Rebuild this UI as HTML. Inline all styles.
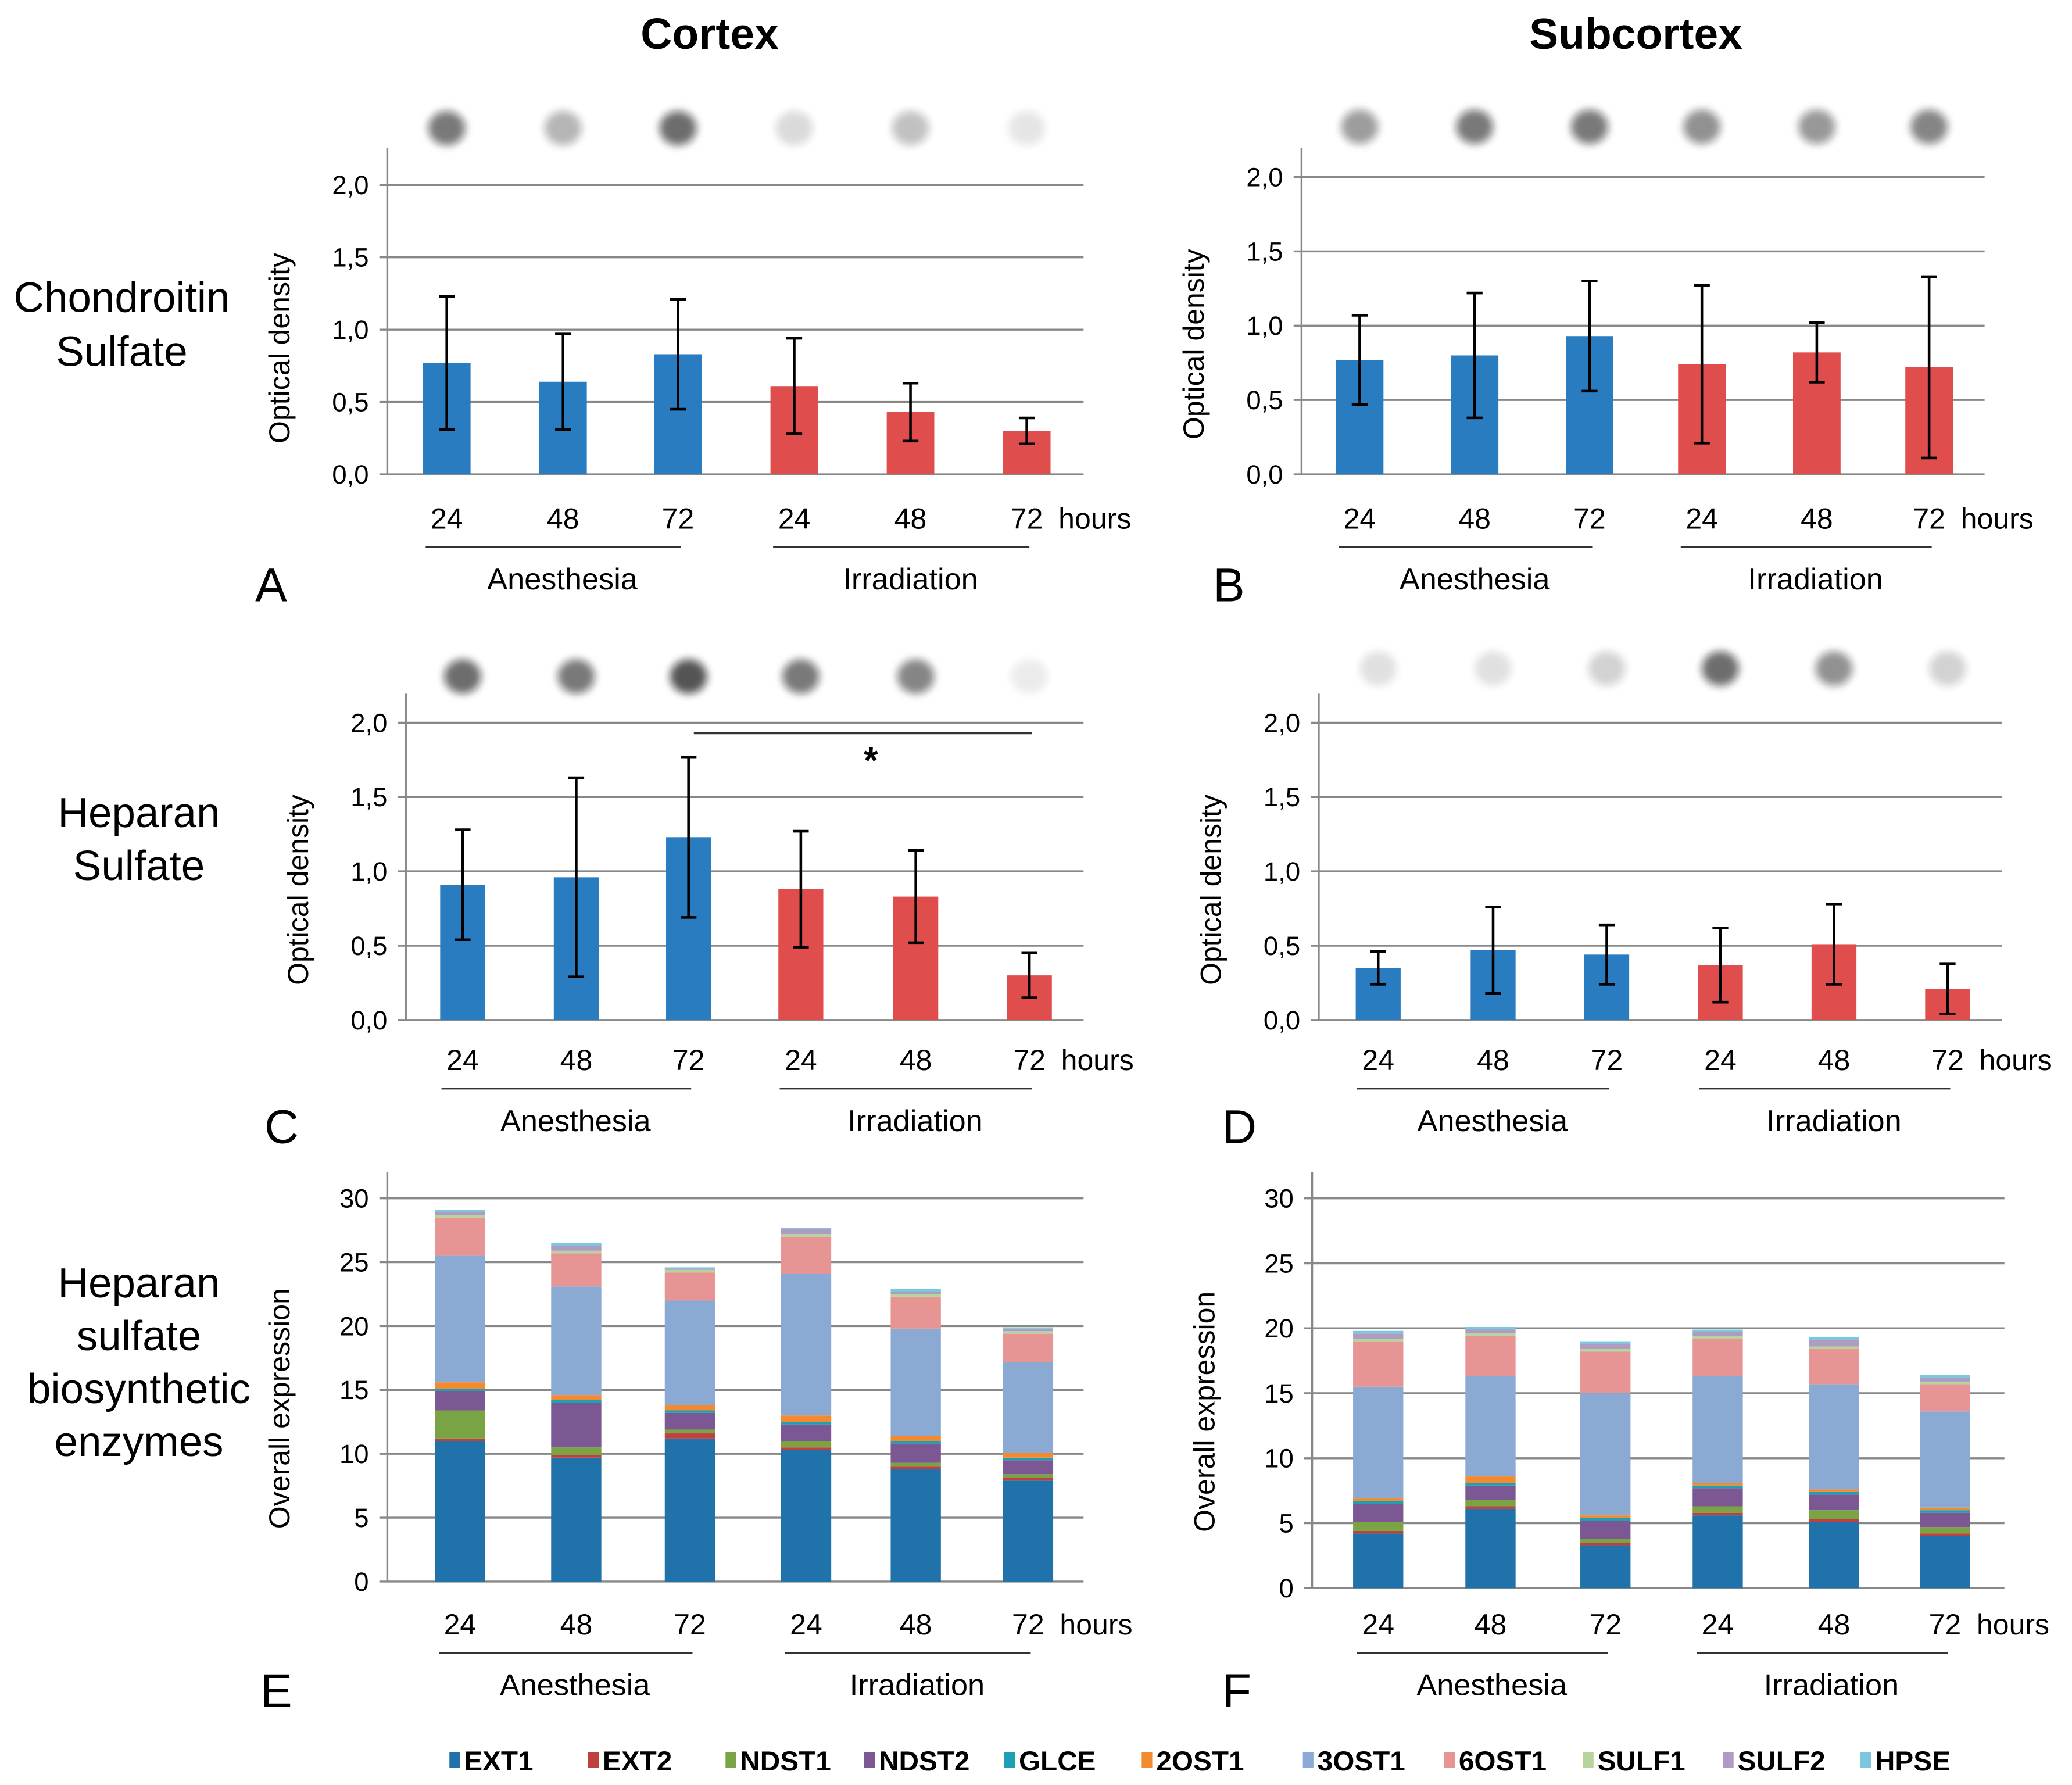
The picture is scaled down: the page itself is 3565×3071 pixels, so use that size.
<!DOCTYPE html>
<html><head><meta charset="utf-8"><style>
html,body{margin:0;padding:0;background:#fff}
svg{display:block}
text{font-family:"Liberation Sans",Arial,sans-serif;fill:#000}
.n{font-family:"Liberation Sans Narrow","Liberation Sans",sans-serif}
</style></head><body>
<svg id="fig" xmlns="http://www.w3.org/2000/svg" width="3565" height="3071" viewBox="0 0 1568 1351">
<defs>
<filter id="blur" x="-50%" y="-50%" width="200%" height="200%"><feGaussianBlur stdDeviation="3"/></filter>
</defs>
<text x="537" y="37" font-size="33" font-weight="bold" text-anchor="middle">Cortex</text>
<text x="1238" y="37" font-size="33" font-weight="bold" text-anchor="middle">Subcortex</text>
<g font-size="32" text-anchor="middle">
<text x="92" y="236"><tspan x="92">Chondroitin</tspan><tspan x="92" dy="41">Sulfate</tspan></text>
<text x="105" y="626"><tspan x="105">Heparan</tspan><tspan x="105" dy="40">Sulfate</tspan></text>
<text x="105" y="982"><tspan x="105">Heparan</tspan><tspan x="105" dy="40">sulfate</tspan><tspan x="105" dy="40">biosynthetic</tspan><tspan x="105" dy="40">enzymes</tspan></text>
</g>
<g id="panels"></g>
<g id="legend"></g>
</svg>
<script>
const NS="http://www.w3.org/2000/svg";
const hours=["24","48","72","24","48","72"];
const groups=["Anesthesia","Irradiation"];
const csCortexMean=[0.77,0.64,0.83,0.61,0.43,0.30];
const csCortexErr=[0.46,0.33,0.38,0.33,0.20,0.09];
const csSubMean=[0.77,0.80,0.93,0.74,0.82,0.72];
const csSubErr=[0.30,0.42,0.37,0.53,0.20,0.61];
const hsCortexMean=[0.91,0.96,1.23,0.88,0.83,0.30];
const hsCortexErr=[0.37,0.67,0.54,0.39,0.31,0.15];
const hsSubMean=[0.35,0.47,0.44,0.37,0.51,0.21];
const hsSubErr=[0.11,0.29,0.20,0.25,0.27,0.17];
const odTicks=["0,0","0,5","1,0","1,5","2,0"];
const odTickVals=[0,0.5,1,1.5,2];
const exTickVals=[0,5,10,15,20,25,30];
const enzymes=["EXT1","EXT2","NDST1","NDST2","GLCE","2OST1","3OST1","6OST1","SULF1","SULF2","HPSE"];
const enzColors=["#1f73aa","#c0403f","#7aa444","#7b5893","#1d9fb5","#f48a30","#8aaad4","#e69594","#b5d59a","#ae9cc3","#7dc6dc"];
const cortexExpr=[
[11.0,0.2,2.2,1.5,0.2,0.5,9.9,3.0,0.2,0.2,0.2],
[9.7,0.2,0.6,3.5,0.2,0.4,8.5,2.6,0.2,0.4,0.2],
[11.2,0.4,0.3,1.3,0.2,0.4,8.2,2.2,0.2,0.1,0.1],
[10.3,0.2,0.5,1.3,0.2,0.5,11.1,2.9,0.2,0.4,0.1],
[8.8,0.2,0.3,1.5,0.2,0.4,8.4,2.5,0.2,0.2,0.2],
[7.9,0.2,0.3,1.1,0.2,0.4,7.1,2.2,0.2,0.2,0.1]];
const subExpr=[
[4.2,0.2,0.7,1.4,0.2,0.2,8.6,3.5,0.2,0.4,0.2],
[6.1,0.2,0.5,1.1,0.2,0.5,7.7,3.1,0.2,0.3,0.2],
[3.3,0.2,0.3,1.4,0.2,0.2,9.4,3.2,0.2,0.4,0.2],
[5.6,0.2,0.5,1.4,0.2,0.2,8.2,2.9,0.2,0.3,0.2],
[5.1,0.2,0.7,1.2,0.2,0.2,8.1,2.7,0.2,0.5,0.2],
[4.0,0.2,0.5,1.1,0.2,0.2,7.4,2.1,0.2,0.3,0.2]];
const blotsA=[0.55,0.3,0.6,0.15,0.25,0.1];
const blotsB=[0.4,0.55,0.55,0.45,0.42,0.5];
const blotsC=[0.6,0.55,0.7,0.55,0.5,0.08];
const blotsD=[0.12,0.12,0.18,0.6,0.45,0.18];

const root=document.getElementById('panels');
function el(tag,attrs,parent,txt){const e=document.createElementNS(NS,tag);for(const k in attrs)e.setAttribute(k,attrs[k]);if(txt!==undefined)e.textContent=txt;(parent||root).appendChild(e);return e;}

function panel(cfg){
  const g=el('g',{});
  
  
  const y=v=>cfg.y0-v*(cfg.y0-cfg.yTop)/cfg.vmax;
  const ax=el('line',{x1:cfg.ax,y1:cfg.axTop,x2:cfg.ax,y2:cfg.y0,stroke:'#888','stroke-width':1.5},g);
  
  cfg.ticks.forEach((t,i)=>{
    const yy=y(cfg.tickVals[i]);
    const gl=el('line',{x1:cfg.ax-6,y1:yy,x2:cfg.right,y2:yy,stroke:'#888','stroke-width':1.5},g);
    
    const tl=el('text',{x:cfg.ax-14,y:yy+7,'font-size':20,'text-anchor':'end',class:'n'},g,t);
    
  });
  const yt=el('text',{x:0,y:0,'font-size':22,'text-anchor':'middle',transform:`translate(${cfg.ax-74},${(cfg.y0+cfg.yTop)/2+14}) rotate(-90)`},g,cfg.ytitle);
  
  const bw=cfg.bw;
  cfg.cx.forEach((cx,i)=>{
    if(cfg.stack){
      let acc=0;
      cfg.stack[i].forEach((v,j)=>{
        const r=el('rect',{x:cx-bw/2,y:y(acc+v),width:bw,height:y(acc)-y(acc+v),fill:enzColors[j]},g);
        
        acc+=v;
      });
    } else {
      const m=cfg.mean[i],e=cfg.err[i];
      const r=el('rect',{x:cx-bw/2,y:y(m),width:bw,height:y(0)-y(m),fill:i<3?'#2a7cc0':'#e04d4d'},g);
      
      const eb=el('path',{d:`M${cx},${y(m+e)}V${y(m-e)}M${cx-6},${y(m+e)}H${cx+6}M${cx-6},${y(m-e)}H${cx+6}`,stroke:'#000','stroke-width':2,fill:'none'},g);
      
      const b=el('ellipse',{cx:cx,cy:cfg.blotY,rx:14,ry:13,fill:'#111',opacity:cfg.blots[i],filter:'url(#blur)'},g);
      
    }
    const xl=el('text',{x:cx,y:cfg.labY,'font-size':22,'text-anchor':'middle',class:'n'},g,hours[i]);
    
  });
  const hl=el('text',{x:cfg.cx[5]+24,y:cfg.labY,'font-size':22,class:'n'},g,'hours');
  
  groups.forEach((gname,k)=>{
    const a=cfg.cx[k*3]-16,b=cfg.cx[k*3+2]+2;
    const ul=el('line',{x1:a,y1:cfg.labY+14,x2:b,y2:cfg.labY+14,stroke:'#333','stroke-width':1.2},g);
    
    const gt=el('text',{x:(cfg.cx[k*3]+cfg.cx[k*3+2])/2,y:cfg.labY+46,'font-size':23,'text-anchor':'middle'},g,gname);
    
  });
  const lt=el('text',{x:cfg.letterX,y:cfg.labY+55,'font-size':36},g,cfg.letter);
  
  return {g,y};
}
panel({name:'panel-a',ax:293,axTop:112,right:820,y0:359,yTop:140,vmax:2,ticks:odTicks,tickVals:odTickVals,ytitle:'Optical density',cx:[338,426,513,601,689,777],bw:36,mean:csCortexMean,err:csCortexErr,blots:blotsA,blotY:97,labY:400,letter:'A',letterX:193});
panel({name:'panel-b',ax:985,axTop:112,right:1502,y0:359,yTop:134,vmax:2,ticks:odTicks,tickVals:odTickVals,ytitle:'Optical density',cx:[1029,1116,1203,1288,1375,1460],bw:36,mean:csSubMean,err:csSubErr,blots:blotsB,blotY:96,labY:400,letter:'B',letterX:918});
const C=panel({name:'panel-c',ax:307,axTop:525,right:820,y0:772,yTop:547,vmax:2,ticks:odTicks,tickVals:odTickVals,ytitle:'Optical density',cx:[350,436,521,606,693,779],bw:34,mean:hsCortexMean,err:hsCortexErr,blots:blotsC,blotY:512,labY:810,letter:'C',letterX:200});
el('line',{x1:525,y1:555,x2:781,y2:555,stroke:'#333','stroke-width':1.5,},C.g);
el('text',{x:659,y:585,'font-size':28,'font-weight':'bold','text-anchor':'middle',},C.g,'*');
panel({name:'panel-d',ax:998,axTop:525,right:1515,y0:772,yTop:547,vmax:2,ticks:odTicks,tickVals:odTickVals,ytitle:'Optical density',cx:[1043,1130,1216,1302,1388,1474],bw:34,mean:hsSubMean,err:hsSubErr,blots:blotsD,blotY:506,labY:810,letter:'D',letterX:925});
panel({name:'panel-e',ax:293,axTop:887,right:820,y0:1197,yTop:907,vmax:30,ticks:exTickVals.map(String),tickVals:exTickVals,ytitle:'Overall expression',cx:[348,436,522,610,693,778],bw:38,stack:cortexExpr,labY:1237,letter:'E',letterX:197});
panel({name:'panel-f',ax:993,axTop:887,right:1517,y0:1202,yTop:907,vmax:30,ticks:exTickVals.map(String),tickVals:exTickVals,ytitle:'Overall expression',cx:[1043,1128,1215,1300,1388,1472],bw:38,stack:subExpr,labY:1237,letter:'F',letterX:925});

const lg=document.getElementById('legend');
const legX=[340,445,549,654,760,864,986,1093,1198,1304,1408];
enzymes.forEach((n,i)=>{
  const r=el('rect',{x:legX[i],y:1326,width:8,height:12,fill:enzColors[i]},lg);
  
  const t=el('text',{x:legX[i]+11,y:1340,'font-size':21,'font-weight':'bold',class:'n'},lg,n);
  
});
</script>
</body></html>
